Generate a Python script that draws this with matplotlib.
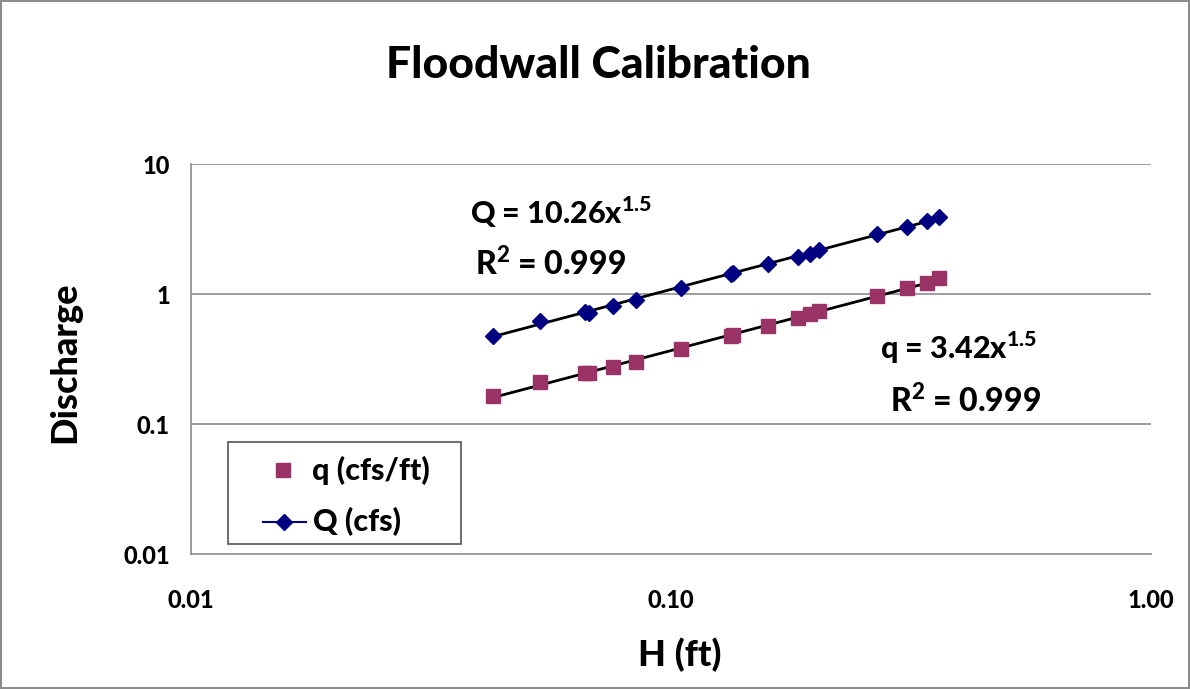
import numpy as np
import matplotlib
matplotlib.use("Agg")
import matplotlib.pyplot as plt
from matplotlib.lines import Line2D
from matplotlib.patches import Rectangle

plt.rcParams['font.family'] = ['Lato', 'DejaVu Sans']
plt.rcParams['mathtext.fontset'] = 'custom'
plt.rcParams['mathtext.bf'] = 'Lato:black'
plt.rcParams['mathtext.rm'] = 'Lato:black'

# Data
H = [0.0427, 0.0534, 0.0663, 0.0676, 0.0757, 0.0847, 0.1051, 0.1335, 0.1347,
     0.1595, 0.1844, 0.1951, 0.2037, 0.2687, 0.3101, 0.3414, 0.3628]
Q_cfs = [0.478, 0.626, 0.735, 0.722, 0.813, 0.904, 1.112, 1.425, 1.458,
         1.716, 1.946, 2.042, 2.192, 2.91, 3.311, 3.68, 3.91]
q_cfsft = [0.166, 0.2104, 0.2467, 0.2467, 0.2745, 0.303, 0.3775, 0.4777, 0.486,
           0.5735, 0.6535, 0.7055, 0.748, 0.970, 1.112, 1.228, 1.328]

title = "Floodwall Calibration"
xlabel = "H (ft)"
ylabel = "Discharge"
xticks = [0.01, 0.1, 1.0]
xticklabels = ["0.01", "0.10", "1.00"]
yticks = [0.01, 0.1, 1, 10]
yticklabels = ["0.01", "0.1", "1", "10"]
legend_labels = ["q (cfs/ft)", "Q (cfs)"]

WT = 900  # heavy weight to mimic Calibri Bold
Q_COLOR = '#000080'
q_COLOR = '#993366'

W, Hh = 1190, 689
fig = plt.figure(figsize=(W / 100, Hh / 100), dpi=100)
fig.patch.set_edgecolor('#8c8c8c')
fig.patch.set_linewidth(1.5)


def fx(px):
    return px / W


def fy(py):
    return 1 - py / Hh


ax = fig.add_axes([fx(190.7), fy(554), 960 / W, (554 - 164.3) / Hh])
ax.set_xscale('log')
ax.set_yscale('log')
ax.set_xlim(0.01, 1.0)
ax.set_ylim(0.01, 10)

for yv in yticks[1:]:
    ax.axhline(yv, color='#8c8c8c', lw=1.2, zorder=0)
for s in ['top', 'right']:
    ax.spines[s].set_visible(False)
for s in ['left', 'bottom']:
    ax.spines[s].set_color('#8c8c8c')
    ax.spines[s].set_linewidth(1.2)

ax.set_xticks(xticks)
ax.set_xticklabels(xticklabels, fontsize=17, fontweight=WT)
ax.set_yticks(yticks)
ax.set_yticklabels(yticklabels, fontsize=17, fontweight=WT)
ax.minorticks_off()
ax.tick_params(axis='both', length=0)
ax.tick_params(axis='x', pad=25)
ax.tick_params(axis='y', pad=15)

# trendlines (power fits in log space)
hx = np.array(H)
for yy in (Q_cfs, q_cfsft):
    b, a = np.polyfit(np.log10(hx), np.log10(np.array(yy)), 1)
    xs = np.array([hx.min(), hx.max()])
    ax.plot(xs, 10 ** a * xs ** b, color='black', lw=2, zorder=2)

ax.plot(H, Q_cfs, linestyle='none', marker='D', markersize=8,
        color=Q_COLOR, zorder=3)
ax.plot(H, q_cfsft, linestyle='none', marker='s', markersize=9.5,
        color=q_COLOR, zorder=3)

# legend (drawn manually to match the Excel layout)
fig.add_artist(Rectangle((fx(228), fy(544)), (461 - 228) / W, (544 - 442) / Hh,
                         transform=fig.transFigure, facecolor='white',
                         edgecolor='#555555', lw=1.2, zorder=5))
fig.add_artist(Line2D([fx(283)], [fy(470)], linestyle='none', marker='s',
                      markersize=10, color=q_COLOR, transform=fig.transFigure,
                      zorder=6))
fig.add_artist(Line2D([fx(263), fx(306)], [fy(522), fy(522)], lw=1.5,
                      color=Q_COLOR, transform=fig.transFigure, zorder=6))
fig.add_artist(Line2D([fx(284)], [fy(522)], linestyle='none', marker='D',
                      markersize=8, color=Q_COLOR, transform=fig.transFigure,
                      zorder=6))
fig.text(fx(312), fy(470), legend_labels[0], ha='left', va='center',
         fontsize=22, fontweight=WT, zorder=6)
fig.text(fx(313), fy(522), legend_labels[1], ha='left', va='center',
         fontsize=22, fontweight=WT, zorder=6)

fig.text(fx(598), fy(65), title, ha='center', va='center',
         fontsize=32, fontweight=WT)
fig.text(fx(680), fy(655), xlabel, ha='center', va='center',
         fontsize=26, fontweight=WT)
fig.text(fx(65), fy(362), ylabel, ha='center', va='center',
         fontsize=26, fontweight=WT, rotation=90)

fig.text(fx(470), fy(212), r"Q = 10.26x$^{\mathbf{1.5}}$", ha='left',
         va='center', fontsize=22, fontweight=WT)
fig.text(fx(475), fy(263), r"R$^{\mathbf{2}}$ = 0.999", ha='left',
         va='center', fontsize=23, fontweight=WT)
fig.text(fx(880), fy(348), r"q = 3.42x$^{\mathbf{1.5}}$", ha='left',
         va='center', fontsize=22, fontweight=WT)
fig.text(fx(890), fy(400), r"R$^{\mathbf{2}}$ = 0.999", ha='left',
         va='center', fontsize=23, fontweight=WT)

fig.savefig("out.png", dpi=100, edgecolor=fig.get_edgecolor())
